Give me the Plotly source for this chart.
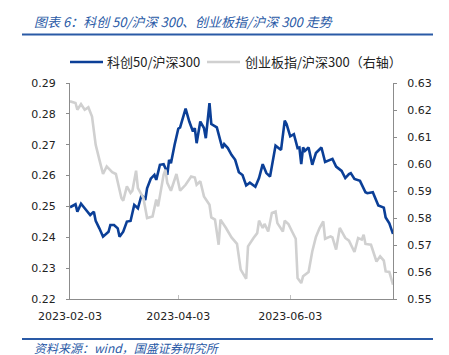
import plotly.graph_objects as go

# ---------------- data ----------------
kc50_dates = [
    "2023-02-03", "2023-02-06", "2023-02-07", "2023-02-09", "2023-02-11", "2023-02-14",
    "2023-02-16", "2023-02-17", "2023-02-19", "2023-02-21", "2023-02-24", "2023-02-25",
    "2023-02-27", "2023-03-01", "2023-03-02", "2023-03-04", "2023-03-06", "2023-03-08",
    "2023-03-10", "2023-03-12", "2023-03-14", "2023-03-16", "2023-03-17", "2023-03-19",
    "2023-03-21", "2023-03-22", "2023-03-24", "2023-03-26", "2023-03-27", "2023-03-28",
    "2023-03-29", "2023-03-30", "2023-04-01", "2023-04-03", "2023-04-04", "2023-04-07",
    "2023-04-09", "2023-04-11", "2023-04-12", "2023-04-13", "2023-04-15", "2023-04-17",
    "2023-04-18", "2023-04-20", "2023-04-21", "2023-04-24", "2023-04-27", "2023-04-28",
    "2023-04-30", "2023-05-02", "2023-05-04", "2023-05-06", "2023-05-08", "2023-05-10",
    "2023-05-12", "2023-05-15", "2023-05-17", "2023-05-19", "2023-05-21", "2023-05-23",
    "2023-05-26", "2023-05-29", "2023-05-31", "2023-06-01", "2023-06-03", "2023-06-05",
    "2023-06-07", "2023-06-08", "2023-06-09", "2023-06-10", "2023-06-11", "2023-06-13",
    "2023-06-15", "2023-06-17", "2023-06-20", "2023-06-22", "2023-06-26", "2023-06-28",
    "2023-07-01", "2023-07-03", "2023-07-05", "2023-07-06", "2023-07-08", "2023-07-11",
    "2023-07-14", "2023-07-15", "2023-07-18", "2023-07-21", "2023-07-24", "2023-07-25",
    "2023-07-27", "2023-07-29",
]
kc50_ratio = [
    0.2497, 0.2507, 0.2483, 0.2509, 0.2494, 0.2472,
    0.2483, 0.2453, 0.2429, 0.2402, 0.2418, 0.2440,
    0.2440, 0.2429, 0.2402, 0.2418, 0.2451, 0.2453,
    0.2505, 0.2494, 0.2537, 0.2521, 0.2559, 0.2590,
    0.2602, 0.2586, 0.2635, 0.2637, 0.2624, 0.2602,
    0.2651, 0.2640, 0.2700, 0.2752, 0.2756, 0.2817,
    0.2775, 0.2743, 0.2754, 0.2705, 0.2775, 0.2754,
    0.2721, 0.2835, 0.2767, 0.2756, 0.2689, 0.2702,
    0.2689, 0.2667, 0.2651, 0.2611, 0.2602, 0.2568,
    0.2577, 0.2564, 0.2592, 0.2637, 0.2608, 0.2597,
    0.2697, 0.2683, 0.2778, 0.2767, 0.2727, 0.2734,
    0.2689, 0.2691, 0.2637, 0.2691, 0.2680, 0.2691,
    0.2635, 0.2673, 0.2691, 0.2644, 0.2654, 0.2629,
    0.2615, 0.2592, 0.2605, 0.2608, 0.2589, 0.2583,
    0.2546, 0.2543, 0.2546, 0.2503, 0.2496, 0.2464,
    0.2445, 0.2411,
]

cyb_dates = [
    "2023-02-03", "2023-02-06", "2023-02-07", "2023-02-09", "2023-02-11", "2023-02-13",
    "2023-02-15", "2023-02-17", "2023-02-19", "2023-02-21", "2023-02-23", "2023-02-26",
    "2023-02-28", "2023-03-03", "2023-03-04", "2023-03-06", "2023-03-08", "2023-03-09",
    "2023-03-11", "2023-03-12", "2023-03-15", "2023-03-17", "2023-03-20", "2023-03-22",
    "2023-03-23", "2023-03-25", "2023-03-26", "2023-03-27", "2023-03-28", "2023-03-30",
    "2023-04-02", "2023-04-04", "2023-04-07", "2023-04-10", "2023-04-12", "2023-04-13",
    "2023-04-15", "2023-04-17", "2023-04-19", "2023-04-20", "2023-04-21", "2023-04-23",
    "2023-04-25", "2023-04-26", "2023-04-29", "2023-05-02", "2023-05-05", "2023-05-06",
    "2023-05-07", "2023-05-10", "2023-05-11", "2023-05-14", "2023-05-16", "2023-05-17",
    "2023-05-19", "2023-05-20", "2023-05-22", "2023-05-24", "2023-05-26", "2023-05-27",
    "2023-05-30", "2023-05-31", "2023-06-02", "2023-06-04", "2023-06-06", "2023-06-07",
    "2023-06-09", "2023-06-10", "2023-06-13", "2023-06-15", "2023-06-17", "2023-06-19",
    "2023-06-21", "2023-06-22", "2023-06-25", "2023-06-26", "2023-06-28", "2023-06-30",
    "2023-07-03", "2023-07-05", "2023-07-08", "2023-07-10", "2023-07-12", "2023-07-13",
    "2023-07-14", "2023-07-17", "2023-07-20", "2023-07-22", "2023-07-24", "2023-07-25",
    "2023-07-27", "2023-07-29",
]
cyb_ratio = [
    0.6232, 0.6226, 0.6201, 0.6222, 0.6201, 0.6210,
    0.6176, 0.6071, 0.6016, 0.5963, 0.5991, 0.5970,
    0.5963, 0.5874, 0.5864, 0.5917, 0.5893, 0.5901,
    0.5975, 0.5911, 0.5874, 0.5800, 0.5806, 0.5868,
    0.5843, 0.5923, 0.5960, 0.5979, 0.5930, 0.5901,
    0.5963, 0.5901, 0.5923, 0.5954, 0.5950, 0.5923,
    0.5936, 0.5880, 0.5856, 0.5849, 0.5802, 0.5794,
    0.5701, 0.5794, 0.5763, 0.5728, 0.5704, 0.5646,
    0.5609, 0.5575, 0.5695, 0.5726, 0.5744, 0.5790,
    0.5763, 0.5778, 0.5750, 0.5819, 0.5824, 0.5781,
    0.5750, 0.5790, 0.5778, 0.5750, 0.5723, 0.5578,
    0.5559, 0.5584, 0.5600, 0.5676, 0.5730, 0.5763,
    0.5787, 0.5723, 0.5732, 0.5728, 0.5683, 0.5763,
    0.5726, 0.5716, 0.5674, 0.5726, 0.5720, 0.5738,
    0.5704, 0.5701, 0.5639, 0.5658, 0.5642, 0.5602,
    0.5600, 0.5553,
]

x_tick_vals = ["2023-02-03", "2023-04-03", "2023-06-03"]
x_tick_text = ["2023-02-03", "2023-04-03", "2023-06-03"]
x_range = ["2023-02-03", "2023-07-29"]
left_ticks = [0.22, 0.23, 0.24, 0.25, 0.26, 0.27, 0.28, 0.29]
right_ticks = [0.55, 0.56, 0.57, 0.58, 0.59, 0.60, 0.61, 0.62, 0.63]

series1_name = "科创50/沪深300"
series2_name = "创业板指/沪深300（右轴）"
title_text = "图表 6：科创 50/沪深 300、创业板指/沪深 300 走势"
source_text = "资料来源：wind，国盛证券研究所"

# ---------------- style ----------------
BLUE = "#0b3f97"
GREY = "#d0d0d0"
TITLE_BLUE = "#2a5aa6"
AXIS = "#8c8c8c"
CJK = "Noto Sans CJK SC"
NUM = "DejaVu Sans"

W, H = 449, 355
ML, MR, MT, MB = 70, 56, 83, 56
PW = W - ML - MR
PH = H - MT - MB


def px_x(p):
    return (p - ML) / PW


def px_y(p):
    return (H - MB - p) / PH


fig = go.Figure()
fig.add_trace(go.Scatter(
    x=cyb_dates, y=cyb_ratio, mode="lines", name=series2_name,
    line=dict(color=GREY, width=2.6), yaxis="y2", showlegend=False,
))
fig.add_trace(go.Scatter(
    x=kc50_dates, y=kc50_ratio, mode="lines", name=series1_name,
    line=dict(color=BLUE, width=2.6), showlegend=False,
))

fig.update_layout(
    width=W, height=H,
    margin=dict(l=ML, r=MR, t=MT, b=MB, pad=0),
    paper_bgcolor="white", plot_bgcolor="white",
    font=dict(family=NUM, size=11, color="#222222"),
    xaxis=dict(
        type="date", range=x_range, tickmode="array",
        tickvals=x_tick_vals, ticktext=x_tick_text,
        showgrid=False, zeroline=False,
        showline=True, linecolor=AXIS, linewidth=1,
        ticks="inside", ticklen=4, tickcolor="#c0c0c0",
        ticklabelstandoff=7,
        tickfont=dict(family=NUM, size=11, color="#222222"),
    ),
    yaxis=dict(
        range=[0.22, 0.29], tickmode="array", tickvals=left_ticks,
        ticktext=[f"{v:.2f}" for v in left_ticks],
        showgrid=False, zeroline=False,
        showline=True, linecolor=AXIS, linewidth=1,
        ticks="outside", ticklen=3, tickcolor=AXIS,
        ticklabelstandoff=8,
        tickfont=dict(family=NUM, size=11, color="#222222"),
    ),
    yaxis2=dict(
        range=[0.55, 0.63], overlaying="y", side="right",
        tickmode="array", tickvals=right_ticks,
        ticktext=[f"{v:.2f}" for v in right_ticks],
        showgrid=False, zeroline=False,
        showline=True, linecolor=AXIS, linewidth=1,
        ticks="outside", ticklen=3, tickcolor=AXIS,
        ticklabelstandoff=8,
        tickfont=dict(family=NUM, size=11, color="#222222"),
    ),
)

shapes = []
annotations = []

# title + rule
annotations.append(dict(
    xref="paper", yref="paper", x=px_x(32), y=px_y(22), xanchor="left", yanchor="middle",
    text=f"<i>{title_text}</i>", showarrow=False,
    font=dict(family=CJK, size=13, color=TITLE_BLUE),
))
shapes.append(dict(type="line", xref="paper", yref="paper",
                   x0=px_x(22), x1=px_x(433), y0=px_y(34.5), y1=px_y(34.5),
                   line=dict(color=TITLE_BLUE, width=2)))
# bottom rule + source
shapes.append(dict(type="line", xref="paper", yref="paper",
                   x0=px_x(22), x1=px_x(433), y0=px_y(339), y1=px_y(339),
                   line=dict(color=TITLE_BLUE, width=2)))
annotations.append(dict(
    xref="paper", yref="paper", x=px_x(32), y=px_y(347), xanchor="left", yanchor="middle",
    text=f"<i>{source_text}</i>", showarrow=False,
    font=dict(family=CJK, size=12, color=TITLE_BLUE),
))

# legend (manual)
ly = px_y(62)
shapes.append(dict(type="line", xref="paper", yref="paper",
                   x0=px_x(70), x1=px_x(103), y0=ly, y1=ly,
                   line=dict(color=BLUE, width=2.6)))
annotations.append(dict(
    xref="paper", yref="paper", x=px_x(105), y=ly, xanchor="left", yanchor="middle",
    text=series1_name, showarrow=False,
    font=dict(family=CJK, size=13, color="#222222"),
))
shapes.append(dict(type="line", xref="paper", yref="paper",
                   x0=px_x(207), x1=px_x(240), y0=ly, y1=ly,
                   line=dict(color=GREY, width=2.6)))
annotations.append(dict(
    xref="paper", yref="paper", x=px_x(243), y=ly, xanchor="left", yanchor="middle",
    text=series2_name, showarrow=False,
    font=dict(family=CJK, size=13, color="#222222"),
))

fig.update_layout(shapes=shapes, annotations=annotations)
fig.write_html(
    "out.html",
    config={"displayModeBar": False},
    post_script="document.body.style.margin='0';document.body.style.overflow='hidden';",
)
